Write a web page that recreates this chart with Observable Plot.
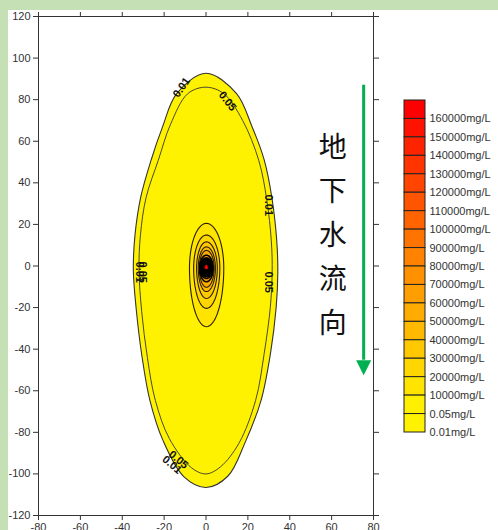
<!DOCTYPE html>
<html><head><meta charset="utf-8">
<script src="https://cdn.jsdelivr.net/npm/d3@7"></script>
<script src="https://cdn.jsdelivr.net/npm/@observablehq/plot@0.6"></script>
<style>
html,body{margin:0;padding:0;background:#c5e0b4;width:498px;height:530px;overflow:hidden;}
#panel{position:absolute;left:8px;top:10px;width:490px;height:520px;background:#fff;}
#legend{position:absolute;left:396px;top:90px;}
svg{overflow:visible;}
</style></head><body><div id="panel"></div><div id="legend"></div>
<script>
// ---- data ----
const xTicks = [-80,-60,-40,-20,0,20,40,60,80];
const yTicks = [-120,-100,-80,-60,-40,-20,0,20,40,60,80,100,120];

// 0.01 mg/L contour (outer boundary)
const c001X = [0, 14.5, 22, 27.8, 31.6, 33.8, 34.3, 33.5, 30.8, 26.3, 18.5, 10.5, 0, -10.5, -20.5, -26.8, -30.5, -33.2, -34.7, -33.9, -31.2, -26.2, -20.8, -14];
const c001Y = [92.7, 83, 67, 51, 32, 12, -3, -20, -42, -64.6, -85.3, -101, -106.5, -101.4, -84, -64.6, -44, -22, -2, 15, 33, 51, 66.8, 82.9];
// 0.05 mg/L contour
const c005X = [0, 8.5, 17.5, 25.2, 29, 31.2, 31.6, 30.7, 27.8, 23.7, 15.7, 6.9, 0, -7, -17.5, -24.2, -28, -30.7, -32, -31.3, -28.6, -22.8, -17, -8.7];
const c005Y = [86, 82.9, 70, 50.8, 32, 12, -3, -20, -42, -64.6, -85.3, -96.6, -100, -97, -83, -64.6, -44, -22, -2, 15, 33, 50.8, 68, 82.9];

// core contours around the source: level, top, bottom, left, right
const coreLevels = [10000,20000,30000,40000,50000,60000,70000,80000,90000,100000,110000,120000,130000,140000,150000,160000];
const coreTop    = [20.5, 14.9, 11.6, 9.2, 7.5, 5.2, 3.9, 3.4, 3.1, 2.8, 2.5, 2.2, 1.9, 1.6, 1.3, 1.0];
const coreBottom = [-29.2, -20.4, -15.6, -12.3, -10.2, -7.6, -6.0, -5.2, -4.7, -4.3, -3.9, -3.5, -3.1, -2.7, -2.3, -1.9];
const coreLeft   = [-7.9, -5.9, -4.5, -3.7, -3.2, -3.0, -2.8, -2.6, -2.4, -2.2, -2.0, -1.8, -1.6, -1.4, -1.2, -1.0];
const coreRight  = [8.5, 6.6, 5.4, 4.5, 3.9, 3.4, 3.1, 2.9, 2.7, 2.5, 2.3, 2.1, 1.9, 1.7, 1.5, 1.3];
const sourceX = 0.2, sourceY = -1;

// legend (top to bottom)
const legendLabels = ["160000mg/L","150000mg/L","140000mg/L","130000mg/L","120000mg/L","110000mg/L","100000mg/L","90000mg/L","80000mg/L","70000mg/L","60000mg/L","50000mg/L","40000mg/L","30000mg/L","20000mg/L","10000mg/L","0.05mg/L","0.01mg/L"];
const legendColors = ["#ff0000","#ff1200","#ff2400","#ff3400","#ff4500","#ff5500","#ff6400","#ff7400","#ff8200","#ff9000","#ff9e00","#ffac00","#ffba00","#ffc800","#ffd600","#ffe400","#fff000","#fff200"];

// contour labels
const labelText = ["0.01","0.05","0.01","0.05","0.01","0.05","0.05","0.01"];
const labelX    = [-11.7, 10.3, 29.9, 29.9, -31.6, -30.2, -13.1, -16.2];
const labelY    = [85.9, 79.2, 29.2, -7.8, -3, -3, -93.2, -95.6];
const labelRot  = [-55, 52, 90, 90, 90, 90, 40, 40];

// flow direction annotation
const flowText = "地\n下\n水\n流\n向";
const flowTextX = 60.5, flowTextY = 16.9;
const arrowX = 75.3, arrowTop = 86.9, arrowBase = -45.3, arrowHead = -48.9;

// ---- build ----
const font = "'Liberation Sans', Arial, sans-serif";
const poly = (xs, ys) => xs.map((x, i) => ({x, y: ys[i]}));
function egg(t, b, l, r, x0, y0) {
  return d3.range(72).map(i => {
    const a = i / 72 * 2 * Math.PI, c = Math.cos(a), s = Math.sin(a);
    return {x: x0 + c * (c >= 0 ? r - x0 : x0 - l), y: y0 + s * (s >= 0 ? t - y0 : y0 - b)};
  });
}
const levelColor = lvl => legendColors[legendLabels.indexOf(lvl + "mg/L")];
const downTri = {draw(ctx, size) { const r = Math.sqrt(size / Math.PI); ctx.moveTo(-r, -r); ctx.lineTo(r, -r); ctx.lineTo(0, r); ctx.closePath(); }};

const coreMarks = coreLevels.map((lvl, i) =>
  Plot.line(egg(coreTop[i], coreBottom[i], coreLeft[i], coreRight[i], sourceX, sourceY),
    {x: "x", y: "y", curve: "linear-closed", fill: levelColor(lvl),
     stroke: lvl >= 60000 ? "#000" : "#2a2000", strokeWidth: lvl >= 60000 ? 1.6 : 1.1}));

const labels = labelText.map((t, i) => ({t, x: labelX[i], y: labelY[i], r: labelRot[i]}));

const chart = Plot.plot({
  width: 490, height: 520,
  marginLeft: 30, marginRight: 125, marginTop: 6, marginBottom: 15,
  style: {fontFamily: font, fontSize: "11px", color: "#333", background: "transparent"},
  x: {domain: [-80, 80], label: null},
  y: {domain: [-120, 120], label: null},
  marks: [
    Plot.line(poly(c001X, c001Y), {x: "x", y: "y", curve: "catmull-rom-closed", fill: "#fff200", stroke: "#333", strokeWidth: 1.1}),
    Plot.line(poly(c005X, c005Y), {x: "x", y: "y", curve: "catmull-rom-closed", fill: "#fff200", stroke: "#333", strokeWidth: 0.9}),
    ...coreMarks,
    Plot.text(labels, {x: "x", y: "y", text: "t", rotate: "r", fontSize: 11, fontWeight: "bold", fill: "#111"}),
    Plot.ruleX([arrowX], {y1: arrowTop, y2: arrowBase, stroke: "#00b050", strokeWidth: 3}),
    Plot.dot([arrowX], {x: d => d, y: arrowHead, r: 7.5, symbol: downTri, fill: "#00b050", stroke: null}),
    Plot.text([flowText], {x: flowTextX, y: flowTextY, text: d => d, fontSize: 28, lineHeight: 1.57, fontFamily: "'Noto Sans CJK SC', sans-serif", fill: "#111"}),
    Plot.frame({stroke: "#333"}),
    Plot.axisY({anchor: "left", ticks: yTicks, tickSize: 5, tickPadding: 3, tickFormat: d => String(d), stroke: "#333"}),
    Plot.axisY({anchor: "right", ticks: yTicks, tickSize: 5, tickFormat: () => "", stroke: "#333"}),
    Plot.axisX({anchor: "bottom", ticks: xTicks, tickSize: 5, tickPadding: 3, tickFormat: d => String(d), stroke: "#333"}),
    Plot.axisX({anchor: "top", ticks: xTicks, tickSize: 5, tickFormat: () => "", stroke: "#333"})
  ]
});
document.getElementById("panel").append(chart);

const legendData = legendLabels.map((label, i) => ({i, label, color: legendColors[i]}));
const legend = Plot.plot({
  width: 102, height: 350, margin: 0,
  style: {fontFamily: font, fontSize: "11px", background: "transparent"},
  x: {domain: [0, 1], range: [8, 29], axis: null},
  y: {domain: [0, 18], range: [10, 342], axis: null},
  marks: [
    Plot.rect(legendData, {x1: 0, x2: 1, y1: "i", y2: d => d.i + 1, fill: "color", stroke: "#222", strokeWidth: 1}),
    Plot.text(legendData, {x: 1, y: d => d.i + 1, text: "label", textAnchor: "start", dx: 4, fill: "#333", fontSize: 11})
  ]
});
document.getElementById("legend").append(legend);
</script></body></html>
